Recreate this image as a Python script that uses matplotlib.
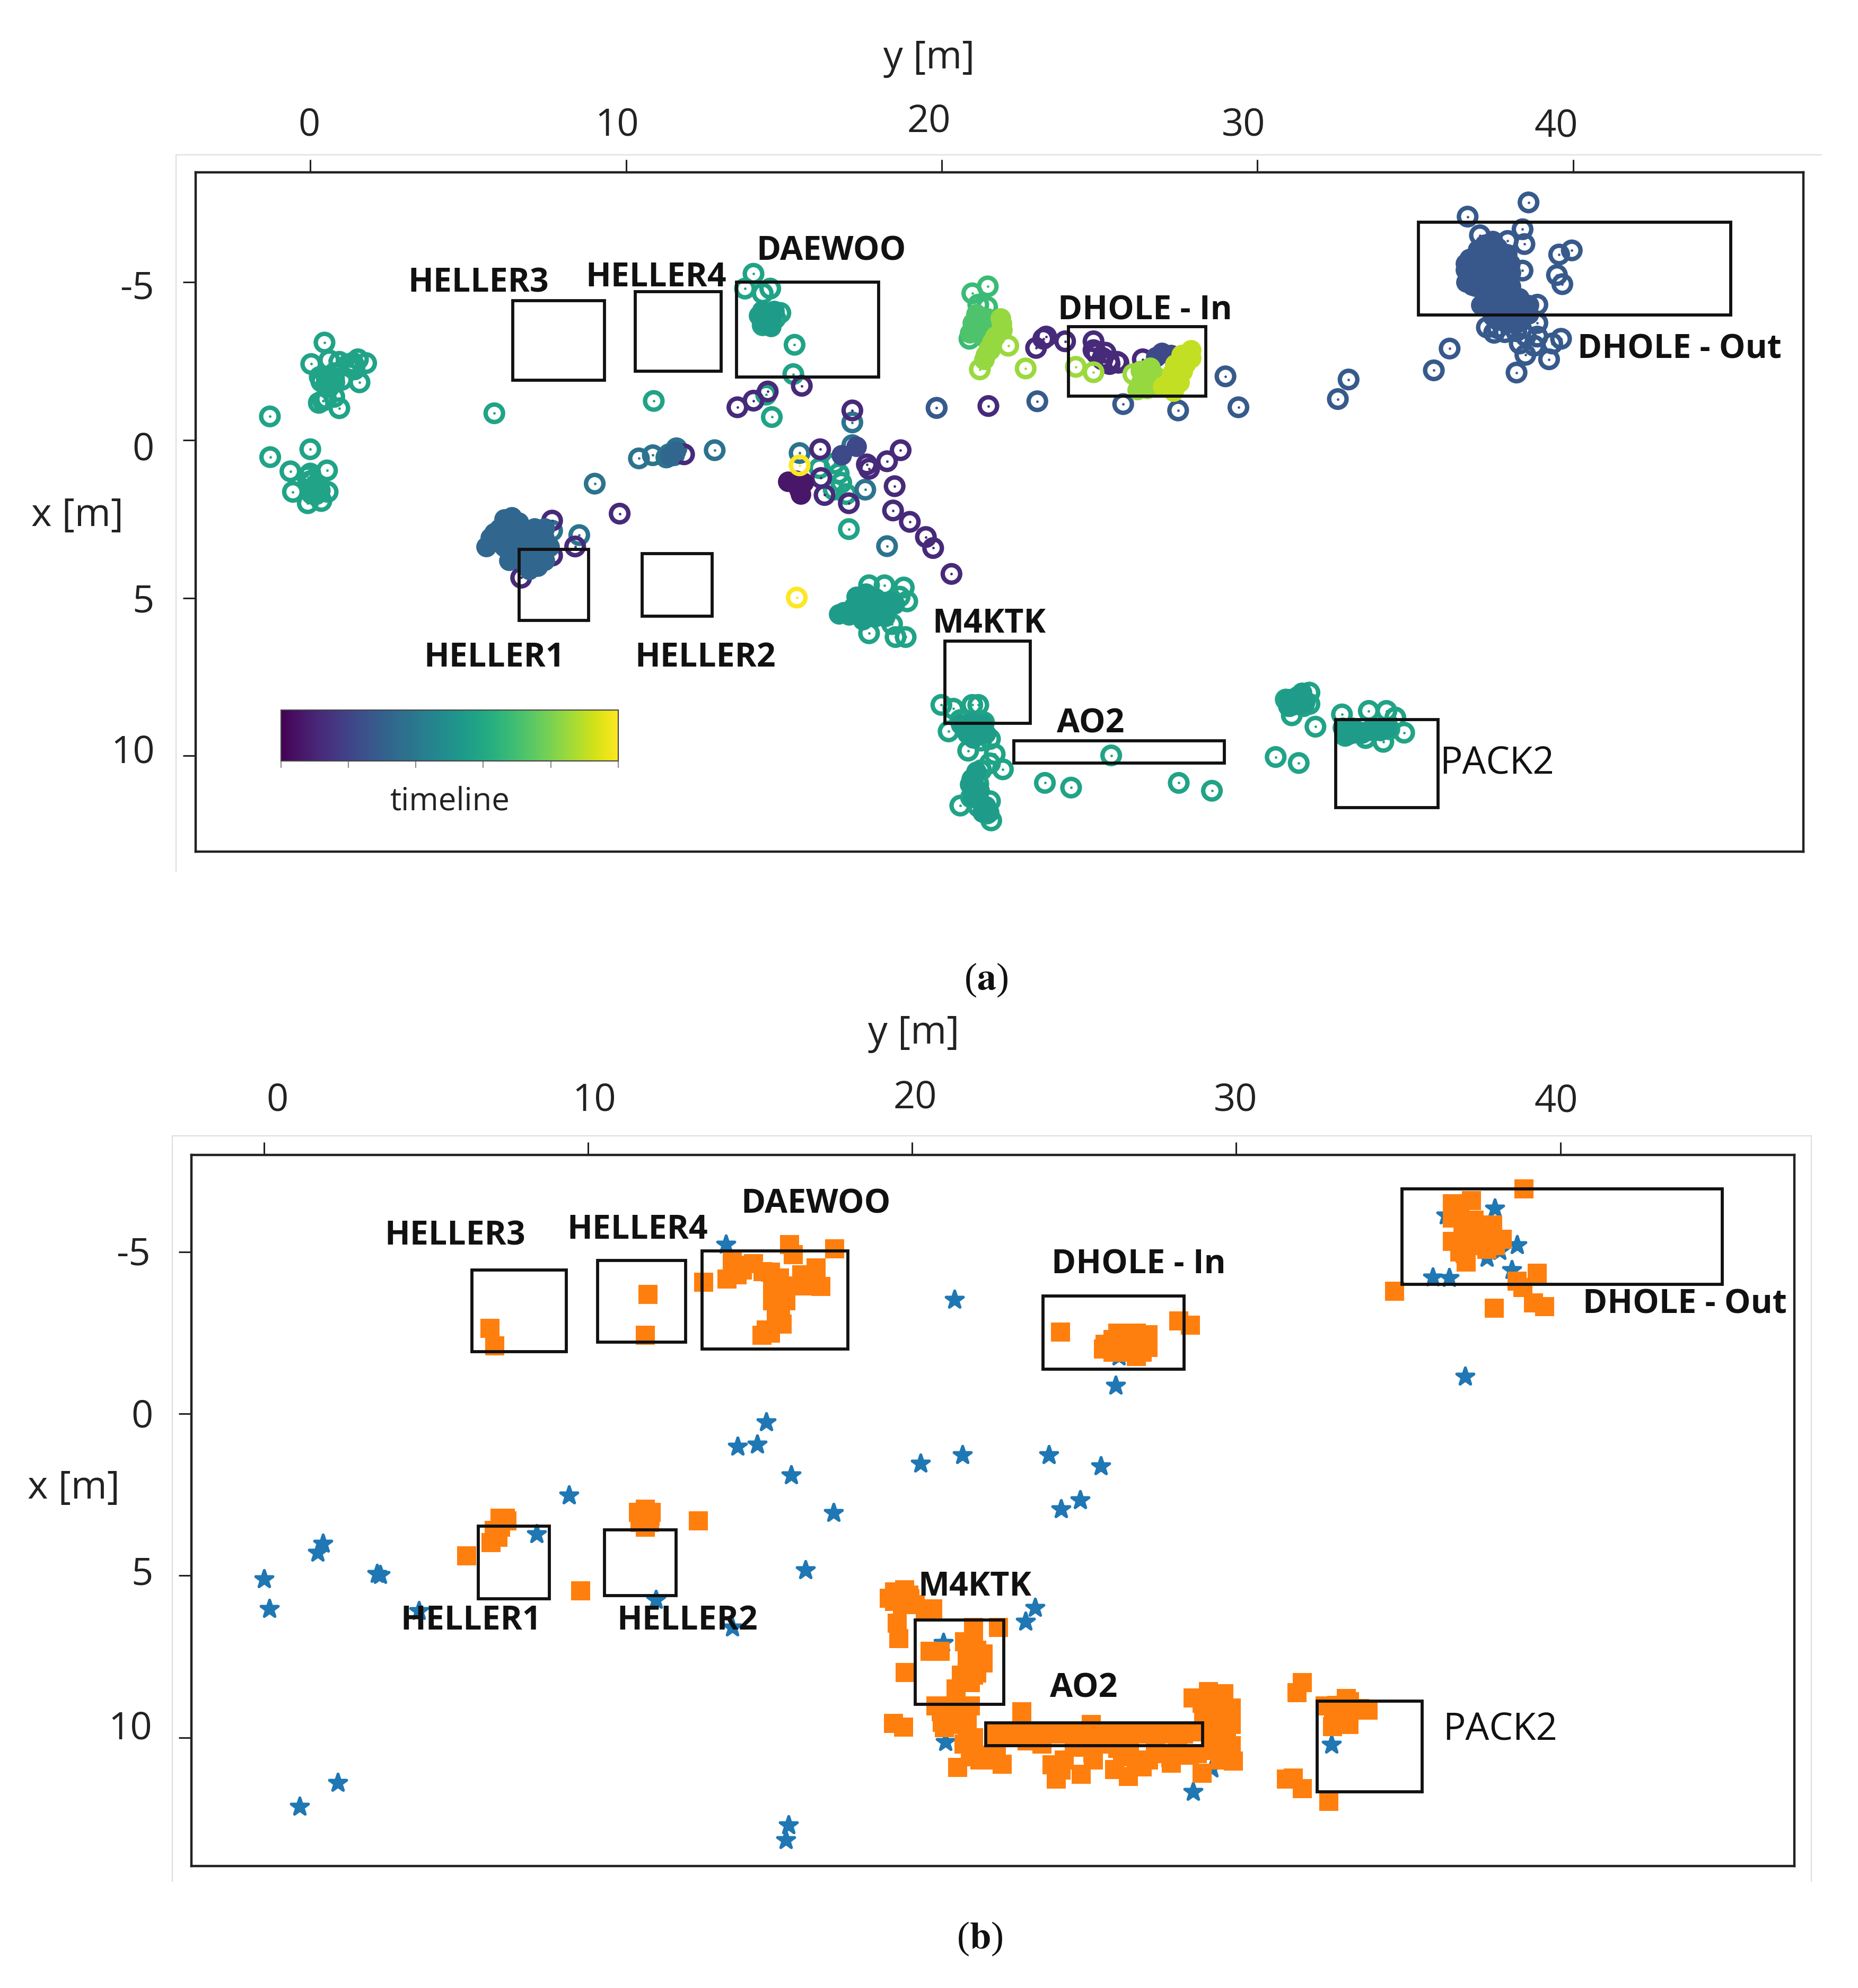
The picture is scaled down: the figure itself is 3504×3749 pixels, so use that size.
import matplotlib
matplotlib.use("Agg")
from matplotlib import pyplot as plt
from matplotlib.lines import Line2D
from matplotlib.patches import Rectangle
from matplotlib.cm import ScalarMappable
from matplotlib.colors import Normalize

plt.rcParams['font.family'] = ['Open Sans', 'DejaVu Sans']
plt.rcParams['mathtext.fontset'] = 'stix'

# panel (a), rings and blobs: y [m] and x [m], one pair of lists per colour
a_teal_y = [0.45, 0.03, 0.60, 0.92, 1.51, 1.77, 1.56, 1.24, 1.40, 0.35, 0.76, 1.00, 0.60, 0.76, 0.27, 0.76, 0.92, 0.52,
            0.30, 0.55, 0.75, 0.50, 1.20, 1.35, 1.40, 0.40, 0.50,
            -1.28, -1.27, 0.00, -0.63, 0.00, 0.53, 0.03, -0.55, 0.55, 0.19, 0.35, -0.08, 0.11, 0.00, 0.20, 0.30, 0.05, -0.10, 5.83, 10.88,
            14.04, 13.77, 14.57, 14.33, 14.89, 14.41, 14.57, 14.49, 14.33, 14.73, 15.34, 15.30, 14.44, 14.62,
            17.06, 16.13, 16.61, 16.74, 16.82, 16.58, 16.98, 17.70, 18.19, 18.80, 18.67, 18.91, 18.43, 17.70, 18.54, 18.86,
            19.99, 20.37, 20.97, 21.16, 20.22, 20.59, 20.97, 21.34, 21.06, 21.25, 21.53, 20.84, 21.68, 21.94, 21.53, 21.25,
            20.97, 21.06, 21.16, 20.93, 20.59, 21.53, 21.34, 21.16, 21.57, 21.44, 25.37, 23.27, 24.10, 27.51, 28.56, 30.58, 31.31,
            31.00, 31.28, 31.65, 31.46, 31.09, 31.84, 30.90, 31.65, 32.68, 33.53, 34.09, 34.37, 34.65, 33.99, 33.43, 32.78, 33.15, 33.71, 34.18]
a_teal_x = [-3.09, -2.41, -2.53, -2.48, -2.56, -2.44, -1.83, -2.34, -2.24, -1.86, -2.12, -1.91, -1.69, -1.83, -1.18, -1.37, -1.01, -1.98,
            -2.00, -2.00, -1.95, -1.75, -2.40, -2.45, -2.35, -1.25, -1.30,
            -0.75, 0.54, 0.29, 0.99, 1.06, 0.96, 1.32, 1.64, 1.64, 1.71, 1.93, 2.00, 1.49, 1.30, 1.40, 1.60, 1.70, 1.15, -0.85, -1.24,
            -5.27, -4.80, -4.80, -4.65, -4.03, -4.00, -3.93, -3.71, -3.64, -3.86, -3.02, -2.09, -1.44, -0.73,
            2.82, 0.89, 0.74, 1.06, 1.35, 1.57, 1.71, 4.60, 4.60, 4.67, 4.96, 5.11, 5.83, 6.12, 6.24, 6.24,
            8.39, 8.51, 8.39, 8.39, 9.23, 8.87, 8.94, 8.94, 9.30, 9.52, 9.47, 9.84, 9.95, 10.43, 10.24, 10.46,
            10.75, 11.03, 10.89, 11.32, 11.58, 11.44, 11.69, 11.61, 12.05, 11.83, 9.99, 10.86, 11.01, 10.86, 11.11, 10.04, 10.23,
            8.43, 8.14, 8.00, 8.43, 8.72, 9.08, 8.22, 8.36, 8.69, 8.58, 8.58, 8.79, 9.27, 9.56, 9.44, 9.37, 9.23, 9.16, 9.16]

a_steel_y = [10.41, 10.85, 11.36, 11.60, 11.28, 11.52, 12.81, 9.01, 17.58, 18.27, 8.52, 15.50, 17.17, 17.17, 19.84, 7.66]
a_steel_x = [0.58, 0.48, 0.45, 0.26, 0.55, 0.48, 0.32, 1.38, 1.57, 3.36, 3.01, 0.41, 0.16, -0.56, -1.02, 2.87]

a_purple_y = [7.66, 8.39, 6.68, 7.66, 9.80, 11.84, 13.53, 14.04, 14.49, 15.57, 17.17, 16.15, 18.27, 18.70, 17.63, 17.70,
              18.51, 18.46, 18.99, 19.50, 19.73, 16.29, 17.06, 16.18, 20.31,
              21.48, 22.99, 23.22, 23.31, 23.91, 24.81, 24.81, 25.19, 25.56, 25.09, 26.37, 25.32, 24.90, 25.10, 25.30, 25.60]
a_purple_x = [2.55, 3.37, 4.36, 3.66, 2.33, 0.45, -1.04, -1.25, -1.54, -1.72, -0.94, 0.29, 0.67, 0.32, 0.77, 0.91,
              1.46, 2.23, 2.59, 3.07, 3.42, 1.74, 2.00, 1.20, 4.24,
              -1.08, -2.92, -3.21, -3.28, -3.13, -3.13, -2.85, -2.77, -2.48, -2.56, -2.56, -2.41, -2.75, -2.60, -2.50, -2.45]

a_blue_y = [19.84, 23.03, 25.75, 27.49, 29.40, 28.99, 32.55, 32.89, 35.59, 36.09, 38.21,
            38.59, 36.66, 38.40, 37.05, 38.46, 39.56, 39.96, 39.49, 39.66, 38.40, 38.87, 38.87, 37.27, 37.84,
            38.87, 39.62, 39.34, 38.77, 38.31, 38.49, 39.24, 37.93, 37.60, 38.20, 38.50, 37.50]
a_blue_x = [-1.02, -1.23, -1.14, -0.94, -1.04, -2.02, -1.30, -1.92, -2.21, -2.90, -2.14,
            -7.53, -7.08, -6.68, -6.49, -6.21, -5.88, -6.01, -5.23, -4.94, -5.37, -4.29, -3.71, -3.57, -3.42,
            -3.28, -3.21, -3.06, -2.99, -3.06, -2.70, -2.56, -6.31, -3.55, -3.45, -3.30, -3.40]

a_green_y = [21.46, 20.97, 21.16, 21.44, 20.88]
a_green_x = [-4.87, -4.65, -4.29, -4.22, -3.21]

a_lime_y = [22.11, 21.21, 22.66, 24.25, 24.81, 26.07]
a_lime_x = [-2.99, -2.24, -2.27, -2.32, -2.15, -2.09]

a_yellow_y = [15.50, 15.41]
a_yellow_x = [0.80, 4.99]

ring_tones = [0.58, 0.38, 0.12, 0.28, 0.68, 0.85, 1.0]

# blobs where the rings fill in
blob_teal_y = [16.74, 17.06, 17.46, 17.70, 17.30, 18.03, 18.35, 14.45, 14.55, 20.97, 21.16, 21.06, 31.00, 31.28, 33.15, 33.71,
               16.90, 17.20, 17.60, 17.90, 18.20, 17.50, 17.90, 18.20, 18.50, 17.60,
               14.30, 14.70, 14.30, 14.60, 14.20, 14.60,
               20.60, 20.90, 21.20, 21.00, 21.30, 20.80, 21.40, 20.90, 21.00, 21.20, 21.10, 21.00, 21.40, 21.50, 21.30,
               32.70, 33.00, 33.30, 33.50, 33.90, 34.10, 33.00, 32.85, 31.30, 31.10, 31.50, 31.00, 31.40]
blob_teal_x = [5.51, 5.54, 5.47, 5.40, 4.96, 5.32, 5.11, -3.86, -3.70, 8.94, 9.10, 9.30, 8.43, 8.36, 9.23, 9.16,
               5.45, 5.30, 5.10, 5.00, 5.30, 5.70, 5.60, 5.60, 5.20, 4.85,
               -4.10, -4.10, -3.75, -3.60, -3.95, -3.85,
               9.00, 9.10, 9.20, 9.45, 9.00, 9.30, 9.30, 10.90, 10.70, 11.10, 10.50, 11.30, 11.60, 11.80, 11.80,
               9.10, 9.30, 9.30, 9.20, 9.20, 9.10, 9.10, 9.35, 8.20, 8.40, 8.30, 8.20, 8.00]

blob_steel_y = [5.58, 5.82, 6.14, 6.38, 6.46, 6.78, 6.14, 6.46, 7.10, 7.42, 7.10, 7.26, 6.94, 6.30, 5.90, 7.58, 6.78, 7.42, 6.62, 7.18, 11.40, 11.55,
                5.70, 6.00, 6.30, 6.60, 6.90, 7.20, 6.30, 6.60, 7.00, 7.40, 7.30, 7.00, 6.80, 7.20]
blob_steel_x = [3.37, 2.94, 2.51, 2.43, 2.79, 3.08, 3.37, 3.66, 2.79, 2.79, 3.95, 3.66, 4.10, 3.81, 3.08, 3.37, 3.52, 3.81, 3.23, 3.23, 0.50, 0.35,
                3.10, 2.80, 2.60, 2.60, 2.90, 3.00, 3.30, 3.50, 3.40, 3.10, 3.50, 3.70, 3.90, 4.00]

blob_purple_y = [15.13, 15.49, 15.38, 15.62, 15.54]
blob_purple_x = [1.32, 1.57, 1.28, 1.35, 1.71]

blob_indigo_y = [26.97, 26.78, 27.25, 16.82, 17.30]
blob_indigo_x = [-2.77, -2.63, -2.70, 0.48, 0.20]

blob_blue_y = [36.71, 36.71, 36.99, 37.46, 37.84, 36.90, 37.27, 37.65, 38.21, 38.59, 37.46, 38.02, 37.84, 38.40, 37.46, 36.62, 37.46, 38.02, 37.27, 37.09,
               37.20, 37.60, 37.90, 36.60, 36.60, 37.00, 37.00, 37.40, 37.70, 38.00, 36.80, 37.20, 37.60, 38.00, 38.30, 37.50, 37.90, 38.30, 38.60, 38.20, 37.90, 37.60]
blob_blue_x = [-5.74, -5.30, -6.03, -5.81, -5.59, -4.87, -4.58, -4.29, -4.22, -4.29, -5.16, -4.87, -3.86, -3.86, -3.93, -5.01, -6.31, -5.30, -5.59, -4.29,
               -6.20, -6.10, -5.90, -5.60, -5.40, -5.50, -5.20, -5.40, -5.30, -5.60, -4.90, -4.90, -4.90, -4.50, -4.50, -4.50, -4.20, -4.20, -4.00, -3.70, -3.70, -3.80]

blob_green_y = [20.97, 21.25, 21.44, 21.06, 21.10, 20.90, 21.30, 21.50]
blob_green_x = [-3.71, -3.86, -3.86, -3.57, -4.00, -3.40, -3.30, -3.60]

blob_lime_y = [21.87, 21.91, 21.53, 21.34, 26.59, 26.50, 26.69, 26.31, 21.70, 21.50, 21.60, 21.40, 21.90, 26.30, 26.60, 26.80, 26.20, 26.80, 26.50]
blob_lime_x = [-3.86, -3.50, -2.85, -2.56, -1.98, -1.62, -2.12, -1.83, -3.30, -2.90, -3.10, -2.70, -3.70, -2.20, -2.30, -1.70, -1.60, -2.00, -1.90]

blob_yellow_y = [27.90, 27.81, 27.62, 27.53, 27.34, 27.72, 27.43, 27.60, 27.40, 27.30, 27.15, 27.90, 27.00]
blob_yellow_x = [-2.85, -2.56, -2.19, -1.83, -1.54, -2.41, -1.98, -2.70, -2.40, -2.10, -1.80, -2.60, -1.70]

blob_tones = [0.55, 0.33, 0.06, 0.22, 0.27, 0.72, 0.84, 0.91]

# panel (b)
b_star_y = [0.00, 0.16, 1.82, 1.66, 3.49, 3.59, 4.78, 9.41, 8.41, 12.10, 14.45, 15.50, 14.62, 15.22, 16.27, 17.58, 16.71,
            2.27, 1.10, 16.19, 16.11, 14.25, 21.30, 26.28, 26.38, 37.06, 20.26, 21.55, 24.21, 25.82, 25.18, 24.60,
            23.79, 23.50, 20.97, 21.03, 32.94, 28.66, 29.24, 37.98, 38.66, 37.73, 38.50, 36.07, 36.57, 36.48, 38.12]
b_star_x = [5.11, 6.03, 4.01, 4.29, 4.95, 4.98, 6.09, 2.52, 3.72, 5.75, 6.60, 0.25, 1.01, 0.95, 1.90, 3.06, 4.83,
            11.40, 12.13, 12.71, 13.17, -5.24, -3.53, -0.88, -1.77, -1.16, 1.54, 1.27, 1.27, 1.61, 2.66, 2.94,
            5.99, 6.41, 7.07, 10.14, 10.22, 11.68, 10.96, -6.35, -5.21, -4.82, -4.45, -4.22, -4.20, -6.13, -5.04]

b_square_y = [6.97, 7.12, 11.85, 11.77, 13.56, 16.22, 16.33, 17.61, 14.45, 14.29, 14.76, 15.11, 15.63, 15.70, 16.02, 16.64, 17.03,
              17.19, 15.94, 15.99, 15.63, 15.36, 16.96, 7.28, 7.44, 7.22, 7.00, 6.26, 9.77, 11.76, 11.63, 11.91, 11.76, 11.76, 13.40,
              19.46, 19.77, 19.46, 19.93, 20.64, 19.54, 19.59, 19.78, 19.43, 19.73, 20.56, 20.87,
              21.90, 21.61, 21.70, 22.19, 22.19, 21.80, 21.90, 21.51, 21.36, 22.67,
              20.74, 21.22, 21.80, 20.93, 21.41, 21.70, 21.80, 22.09, 21.41, 22.77, 22.28, 23.38,
              22.57, 23.15, 23.73, 24.31, 24.89, 25.47, 26.05, 26.63, 27.21, 27.79, 28.37, 28.85, 25.53,
              23.54, 24.31, 24.70, 24.45, 25.22, 25.57, 26.34, 26.24, 26.67, 26.92, 27.30, 27.98, 28.56, 28.95, 29.91, 29.62, 29.85, 29.24,
              28.66, 29.14, 29.62, 29.85, 29.85, 29.43, 29.43, 28.95,
              32.04, 31.88, 32.75, 33.39, 34.06, 33.29, 32.97, 33.48, 31.76, 32.04, 31.55, 32.85,
              24.58, 28.23, 28.58, 25.95, 26.34, 26.92, 27.27, 27.27, 26.72, 26.92, 26.34,
              38.87, 36.67, 37.25, 36.67, 37.34, 37.92, 38.21, 37.06, 36.67, 37.06, 37.73, 37.34,
              39.28, 38.66, 38.85, 34.89, 37.96, 39.18, 39.51,
              # filling the dense patches
              21.90, 21.70, 22.00, 21.80, 22.00, 21.60, 21.90, 20.90, 21.20, 21.50, 21.20, 21.70, 21.00, 21.90, 21.60, 21.90, 22.30,
              29.20, 29.50, 29.70, 29.20, 29.60, 29.30, 29.70, 29.30, 29.50, 29.00,
              26.20, 26.60, 27.00, 26.60, 27.10, 26.20, 25.90,
              36.90, 37.00, 37.50, 37.60, 36.90, 36.90, 37.30, 37.10, 37.70, 37.90, 37.20, 38.00,
              14.60, 15.90, 15.90, 15.70, 16.10, 16.40, 16.60, 16.80, 15.80, 15.50, 15.90, 14.60, 15.40,
              7.10, 7.30, 7.50, 11.55, 11.95, 11.60, 11.90, 11.76,
              23.20, 24.00, 25.00, 25.90, 26.70, 27.50, 28.20, 28.80, 27.10, 26.50, 27.70, 22.90, 22.60, 28.00, 25.60, 24.60,
              19.30, 19.60, 19.90, 19.70, 20.10, 20.40, 33.10, 33.50, 33.00, 33.80]
b_square_x = [-2.65, -2.11, -3.69, -2.43, -4.07, -5.23, -4.92, -5.11, -4.70, -4.16, -4.45, -4.64, -4.38, -3.94, -3.91, -4.11, -4.52,
              -3.94, -3.13, -2.77, -2.50, -2.43, -4.01, 3.23, 3.23, 3.82, 3.97, 4.38, 5.46, 3.16, 3.16, 3.16, 2.94, 3.38, 3.31,
              5.50, 5.43, 5.80, 5.72, 6.02, 6.46, 6.94, 7.99, 9.57, 9.68, 7.33, 7.33,
              6.75, 7.04, 7.33, 7.41, 7.70, 7.77, 8.07, 8.07, 8.50, 6.60,
              9.02, 9.02, 9.02, 9.53, 9.60, 9.97, 10.41, 10.70, 10.92, 10.82, 10.55, 9.21,
              9.89, 9.89, 9.89, 9.89, 9.89, 9.89, 9.89, 9.89, 9.89, 9.89, 9.89, 9.82, 9.60,
              10.11, 10.85, 10.70, 11.29, 11.14, 10.48, 10.33, 10.99, 11.21, 10.85, 10.70, 10.63, 10.55, 11.11, 10.73, 10.41, 10.26, 10.26,
              8.77, 8.58, 8.65, 9.09, 9.60, 9.09, 9.68, 8.94,
              8.31, 8.61, 9.02, 8.80, 9.16, 9.31, 9.67, 9.60, 11.26, 11.58, 11.28, 11.97,
              -2.53, -2.88, -2.74, -2.15, -2.50, -2.50, -2.44, -2.06, -2.11, -1.77, -2.11,
              -6.95, -6.50, -6.60, -6.06, -5.99, -5.84, -5.40, -5.69, -5.33, -4.96, -5.08, -5.54,
              -4.35, -4.11, -3.91, -3.79, -3.26, -3.43, -3.32,
              7.00, 7.60, 7.30, 8.30, 8.00, 8.30, 6.60, 9.20, 9.30, 9.30, 9.60, 9.40, 9.70, 10.60, 10.20, 10.00, 10.70,
              8.90, 8.90, 9.30, 9.30, 9.70, 10.00, 10.00, 10.40, 10.70, 9.50,
              -2.30, -2.30, -2.20, -1.90, -1.90, -1.90, -2.00,
              -6.20, -5.90, -5.70, -5.40, -5.00, -5.30, -5.20, -4.70, -5.50, -5.50, -5.60, -5.20,
              -4.60, -4.20, -3.80, -3.50, -3.50, -3.95, -4.30, -3.95, -2.90, -2.60, -3.30, -4.30, -4.40,
              3.60, 3.50, 3.30, 3.05, 3.05, 3.35, 3.35, 3.50,
              10.00, 10.20, 10.30, 10.20, 10.30, 10.30, 10.30, 10.50, 10.90, 10.60, 10.50, 10.00, 10.30, 10.80, 10.70, 11.00,
              5.70, 5.65, 5.60, 5.90, 5.90, 6.10, 9.00, 8.90, 9.40, 9.10]

# room names and their footprints: y0, y1, x0, x1
room_names = ['HELLER3', 'HELLER4', 'DAEWOO', 'HELLER1', 'HELLER2', 'M4KTK', 'AO2', 'PACK2', 'DHOLE - In', 'DHOLE - Out']
a_rooms = [(6.41, 9.32, -4.41, -1.90), (10.30, 13.01, -4.70, -2.18), (13.50, 18.01, -5.01, -1.99),
           (6.62, 8.82, 3.47, 5.71), (10.52, 12.73, 3.59, 5.58), (20.11, 22.81, 6.37, 8.98),
           (22.28, 28.95, 9.52, 10.24), (32.48, 35.72, 8.85, 11.64), (24.02, 28.37, -3.60, -1.40), (35.10, 45.00, -6.91, -3.97)]
b_rooms = [(6.42, 9.33, -4.45, -1.92), (10.29, 13.01, -4.74, -2.21), (13.51, 18.01, -5.04, -2.01),
           (6.61, 8.81, 3.47, 5.71), (10.51, 12.71, 3.59, 5.61), (20.10, 22.82, 6.37, 8.97),
           (22.27, 28.96, 9.54, 10.25), (32.50, 35.74, 8.88, 11.67), (24.04, 28.39, -3.65, -1.39), (35.11, 44.99, -6.95, -4.01)]
a_label_pos = [(5.33, -4.97), (10.96, -5.15), (16.50, -5.98), (5.82, 6.89), (12.52, 6.89),
               (21.50, 5.83), (24.72, 8.99), (37.59, 10.26), (26.44, -4.10), (43.38, -2.87)]
b_label_pos = [(5.89, -5.50), (11.52, -5.68), (17.02, -6.48), (6.39, 6.40), (13.07, 6.40),
               (21.93, 5.35), (25.30, 8.48), (38.14, 9.77), (26.99, -4.61), (43.85, -3.38)]

y_ticks = [0, 10, 20, 30, 40]
x_ticks = [-5, 0, 5, 10]

fig = plt.figure(figsize=(35.04, 37.49), dpi=100)
W, H = 1466.0, 1568.0  # layout below is measured on a 1466 wide view of the page


def place(left, top, right, bottom):
    return fig.add_axes([left / W, 1 - bottom / H, (right - left) / W, (bottom - top) / H])


def page_text(x, y, s, **kw):
    fig.text(x / W, 1 - y / H, s, ha='center', va='center', **kw)


def draw_rooms(ax, rooms, label_pos):
    for (y0, y1, x0, x1) in rooms:
        ax.add_patch(Rectangle((y0, x0), y1 - y0, x1 - x0, fill=False, ec='#111111', lw=4.2, zorder=6))
    for name, (y, x) in zip(room_names, label_pos):
        weight = 'normal' if name == 'PACK2' else 'bold'
        size = 51 if name == 'PACK2' else 45
        ax.text(y, x, name, ha='center', va='center', fontsize=size, fontweight=weight, color='#111111', zorder=7)


def style_axes(ax, ylim, xlim):
    ax.set_xlim(*ylim)
    ax.set_ylim(*xlim)
    ax.xaxis.tick_top()
    ax.set_xticks(y_ticks)
    ax.set_yticks(x_ticks)
    ax.tick_params(length=17, width=2.2, color='#222222', labeltop=False, labelleft=False)
    for s in ax.spines.values():
        s.set_linewidth(3.2)
        s.set_color('#222222')


def faint_frame(left, top, right, bottom):
    fig.add_artist(Line2D([left / W, left / W], [1 - top / H, 1 - bottom / H], color='#dddddd', lw=1.5))
    fig.add_artist(Line2D([left / W, right / W], [1 - top / H, 1 - top / H], color='#dddddd', lw=1.5))


cmap = plt.get_cmap('viridis')

# panel (a)
ax_a = place(154.4, 136, 1423, 671.5)
style_axes(ax_a, (-3.63, 47.3), (13.03, -8.48))
ring_sets = [(a_teal_y, a_teal_x), (a_steel_y, a_steel_x), (a_purple_y, a_purple_x), (a_blue_y, a_blue_x),
             (a_green_y, a_green_x), (a_lime_y, a_lime_x), (a_yellow_y, a_yellow_x)]
for (ys, xs), tone in zip(ring_sets, ring_tones):
    z = 5 if tone == 1.0 else 3
    ax_a.scatter(ys, xs, s=560, facecolors='none', edgecolors=[cmap(tone)], linewidths=6, zorder=z)
    ax_a.scatter(ys, xs, s=12, color=[cmap(tone)], linewidths=0, zorder=z)
blob_sets = [(blob_teal_y, blob_teal_x), (blob_steel_y, blob_steel_x), (blob_purple_y, blob_purple_x), (blob_indigo_y, blob_indigo_x),
             (blob_blue_y, blob_blue_x), (blob_green_y, blob_green_x), (blob_lime_y, blob_lime_x), (blob_yellow_y, blob_yellow_x)]
for (ys, xs), tone in zip(blob_sets, blob_tones):
    ax_a.scatter(ys, xs, s=780, color=[cmap(tone)], linewidths=0, zorder=4)
draw_rooms(ax_a, a_rooms, a_label_pos)

# colour bar of the timeline
cax = place(221.7, 560, 487.7, 600)
cbar = fig.colorbar(ScalarMappable(Normalize(0, 1), cmap), cax=cax, orientation='horizontal')
cbar.set_ticks([0, 0.2, 0.4, 0.6, 0.8, 1.0])
cbar.ax.tick_params(length=9, width=1.5, color='#888888', labelbottom=False)
cbar.outline.set_linewidth(1.5)
cbar.outline.set_edgecolor('#444444')
page_text(355, 632, 'timeline', fontsize=43, color='#222222')

# panel (b)
ax_b = place(151, 911, 1416, 1472)
style_axes(ax_b, (-2.24, 47.23), (13.98, -8.0))
ax_b.scatter(b_star_y, b_star_x, s=600, marker='*', color='#1f77b4', linewidths=4, zorder=3)
ax_b.scatter(b_square_y, b_square_x, s=660, marker='s', color='#ff7f0e', linewidths=0, zorder=4)
draw_rooms(ax_b, b_rooms, b_label_pos)

# tick labels sit a little off the ticks, as they do on the page
top_labels_a = [(244, 99), (487, 99), (733, 96), (981, 99), (1228, 100)]
top_labels_b = [(219, 868), (469, 868), (722, 866), (975, 868), (1228, 869)]
left_labels_a = [(108, 228), (113, 355), (113, 475), (105, 594)]
left_labels_b = [(105, 990), (112, 1118), (112, 1242), (103, 1364)]
for tick, (px, py) in zip(y_ticks, top_labels_a):
    page_text(px, py, str(tick), fontsize=52, color='#222222')
for tick, (px, py) in zip(y_ticks, top_labels_b):
    page_text(px, py, str(tick), fontsize=52, color='#222222')
for tick, (px, py) in zip(x_ticks, left_labels_a):
    page_text(px, py, str(tick), fontsize=52, color='#222222')
for tick, (px, py) in zip(x_ticks, left_labels_b):
    page_text(px, py, str(tick), fontsize=52, color='#222222')

page_text(733, 46, 'y [m]', fontsize=53, color='#222222')
page_text(61, 407, 'x [m]', fontsize=53, color='#222222')
page_text(721, 815, 'y [m]', fontsize=53, color='#222222')
page_text(58, 1174, 'x [m]', fontsize=53, color='#222222')

page_text(778, 773, r'($\mathbf{a}$)', fontsize=52, family='Liberation Serif', color='#111111')
page_text(773, 1529, r'($\mathbf{b}$)', fontsize=52, family='Liberation Serif', color='#111111')

faint_frame(139, 122, 1437, 687)
faint_frame(136, 896, 1429, 1484)
fig.add_artist(Line2D([1429 / W, 1429 / W], [1 - 896 / H, 1 - 1484 / H], color='#dddddd', lw=1.5))

fig.savefig('out.png', dpi=100, facecolor='white')
